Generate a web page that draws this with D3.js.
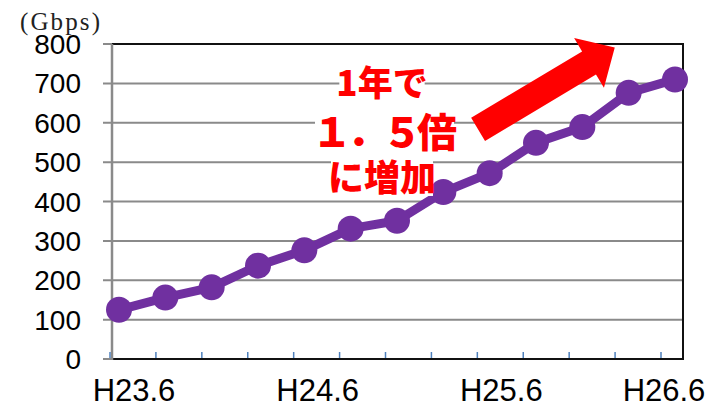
<!DOCTYPE html>
<html>
<head>
<meta charset="utf-8">
<script src="https://cdn.jsdelivr.net/npm/d3@7"></script>
<style>
  body { margin: 0; background: #fff; }
  svg { display: block; }
</style>
</head>
<body>
<script>
var w = 715;
var h = 406;

// monthly traffic, H23.6 .. H26.6 (every 3 months)
var periods = ["H23.6", "H23.9", "H23.12", "H24.3", "H24.6", "H24.9", "H24.12",
               "H25.3", "H25.6", "H25.9", "H25.12", "H26.3", "H26.6"];
var traffic = [125, 156, 182, 237, 276, 331, 351, 424, 472, 549, 589, 676, 710];
var shownLabels = ["H23.6", "H24.6", "H25.6", "H26.6"];
var yTicks = [0, 100, 200, 300, 400, 500, 600, 700, 800];
var noteLines = ["1年で", "１．５倍", "に増加"];
// arrow in data space: [index, value]
var arrowFrom = [7.75, 583];
var arrowTo = [10.7, 791];

var plotL = 112, plotR = 683, plotT = 44, plotB = 359;

var x = d3.scalePoint()
          .domain(d3.range(periods.length))
          .range([119, 675]);

var xTick = d3.scaleLinear()
              .domain([0, periods.length - 1])
              .range([110, 661]);

var y = d3.scaleLinear()
          .domain([0, 800])
          .range([plotB, plotT]);

var svg = d3.select("body").append("svg")
            .attr("width", w)
            .attr("height", h);

// gridlines
svg.selectAll("line.grid")
   .data(yTicks)
   .enter()
   .append("line")
   .attr("class", "grid")
   .attr("x1", 103)
   .attr("x2", plotR)
   .attr("y1", function(d){ return y(d); })
   .attr("y2", function(d){ return y(d); })
   .style("stroke", "#8a8a8a")
   .style("stroke-width", 2);

// frame: top, right, bottom black; left gray
svg.append("path")
   .attr("d", "M" + plotL + "," + y(800) + "H" + plotR + "V" + y(0) + "H" + plotL)
   .style("fill", "none")
   .style("stroke", "#111")
   .style("stroke-width", 2);

svg.append("line")
   .attr("x1", plotL).attr("x2", plotL)
   .attr("y1", y(800)).attr("y2", y(0) + 1)
   .style("stroke", "#8a8a8a")
   .style("stroke-width", 2.5);

// small blue category ticks
svg.selectAll("line.xtick")
   .data(periods)
   .enter()
   .append("line")
   .attr("class", "xtick")
   .attr("x1", function(d, i){ return xTick(i); })
   .attr("x2", function(d, i){ return xTick(i); })
   .attr("y1", y(0) - 7)
   .attr("y2", y(0) - 1)
   .style("stroke", "#4f81bd")
   .style("stroke-width", 1.5);

// y labels
svg.selectAll("text.ylab")
   .data(yTicks)
   .enter()
   .append("text")
   .attr("class", "ylab")
   .attr("x", 81)
   .attr("y", function(d){ return y(d); })
   .attr("dy", "0.36em")
   .attr("text-anchor", "end")
   .style("font-family", "'Liberation Sans', Arial, sans-serif")
   .style("font-size", "28px")
   .style("fill", "#000")
   .text(function(d){ return d; });

// unit
svg.append("text")
   .attr("x", 20)
   .attr("y", 30)
   .attr("textLength", 80)
   .attr("lengthAdjust", "spacing")
   .style("font-family", "'Liberation Serif', 'DejaVu Serif', serif")
   .style("font-size", "25px")
   .style("fill", "#222")
   .text("(Gbps)");

// x labels
svg.selectAll("text.xlab")
   .data(shownLabels)
   .enter()
   .append("text")
   .attr("class", "xlab")
   .attr("x", function(d){
       var c = xTick(periods.indexOf(d)) + 24;
       return Math.min(c, w - 10 - 41);
   })
   .attr("y", 401)
   .attr("text-anchor", "middle")
   .style("font-family", "'Liberation Sans', Arial, sans-serif")
   .style("font-size", "31px")
   .style("fill", "#000")
   .text(function(d){ return d; });

// series line
var line = d3.line()
             .x(function(d, i){ return x(i); })
             .y(function(d){ return y(d); });

svg.append("path")
   .datum(traffic)
   .attr("d", line)
   .style("fill", "none")
   .style("stroke", "#7030a0")
   .style("stroke-width", 9)
   .style("stroke-linejoin", "round");

svg.selectAll("circle.pt")
   .data(traffic)
   .enter()
   .append("circle")
   .attr("class", "pt")
   .attr("cx", function(d, i){ return x(i); })
   .attr("cy", function(d){ return y(d); })
   .attr("r", 13)
   .style("fill", "#7030a0");

// red arrow
var p0 = [x.step() * arrowFrom[0] + x(0), y(arrowFrom[1])];
var p1 = [x.step() * arrowTo[0] + x(0), y(arrowTo[1])];
var dx = p1[0] - p0[0], dy = p1[1] - p0[1];
var len = Math.sqrt(dx * dx + dy * dy);
var ux = dx / len, uy = dy / len;
var nx = -uy, ny = ux;
var shaftW = 27, headW = 58, headL = 30;
var bx = p1[0] - ux * headL, by = p1[1] - uy * headL;
var pts = [
    [p0[0] + nx * shaftW / 2, p0[1] + ny * shaftW / 2],
    [bx + nx * shaftW / 2, by + ny * shaftW / 2],
    [bx + nx * headW / 2, by + ny * headW / 2],
    p1,
    [bx - nx * headW / 2, by - ny * headW / 2],
    [bx - nx * shaftW / 2, by - ny * shaftW / 2],
    [p0[0] - nx * shaftW / 2, p0[1] - ny * shaftW / 2]
];
svg.append("polygon")
   .attr("points", pts.map(function(p){ return p.join(","); }).join(" "))
   .style("fill", "#ff0000");

// annotation text with white backing
var noteY = [83, 133, 178];
var noteSize = [35, 40, 36];
var noteSpacing = [0, -5, 0];
noteLines.forEach(function(t, i){
    var g = svg.append("g");
    var txt = g.append("text")
               .attr("x", 382)
               .attr("y", noteY[i])
               .attr("dy", "0.36em")
               .attr("text-anchor", "middle")
               .style("font-family", "'Noto Sans CJK JP', sans-serif")
               .style("font-weight", 900)
               .style("font-size", noteSize[i] + "px")
               .style("letter-spacing", noteSpacing[i] + "px")
               .style("fill", "#ff0000")
               .text(t);
    var bb = txt.node().getBBox();
    g.insert("rect", "text")
     .attr("x", bb.x + 3)
     .attr("y", bb.y + 5)
     .attr("width", bb.width - 6)
     .attr("height", bb.height - 10)
     .style("fill", "#fff");
});
</script>
</body>
</html>
